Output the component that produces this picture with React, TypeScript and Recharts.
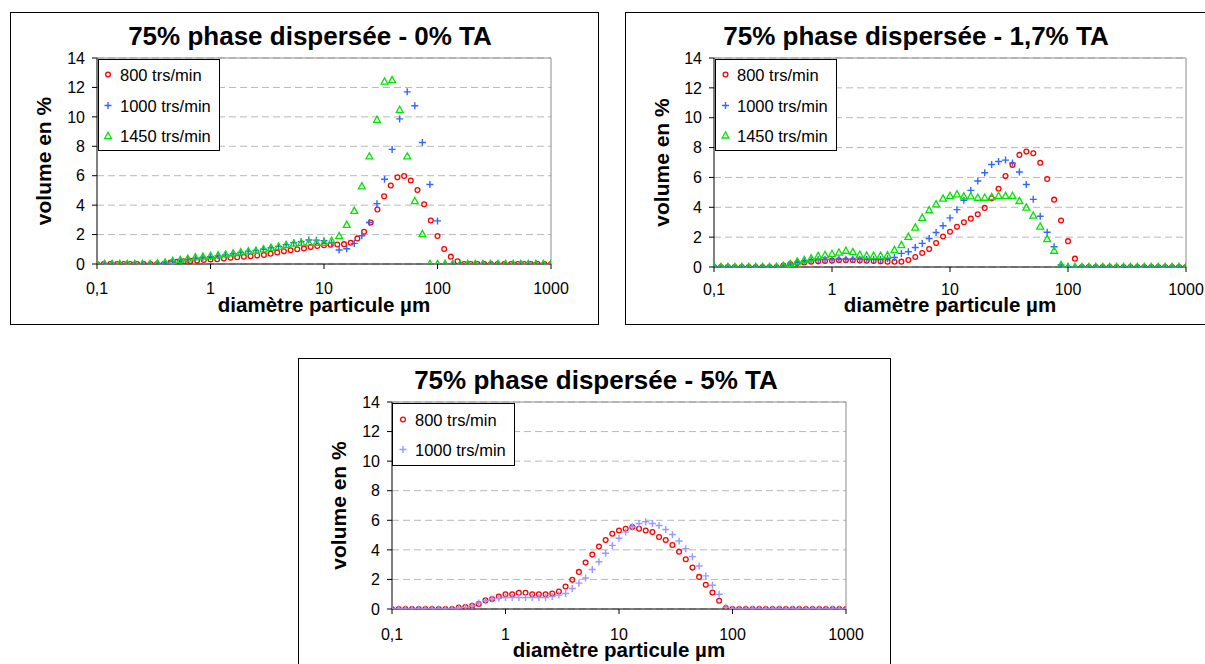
import React from 'react';
import { CartesianGrid, ReferenceLine, Scatter, ScatterChart, XAxis, YAxis } from 'recharts';

const FONT = '"Liberation Sans", Arial, Helvetica, sans-serif';

// particle diameters (µm), 17 classes per decade
const diam17 = [
  0.1, 0.1145, 0.1311, 0.1501, 0.1719, 0.1968, 0.2254, 0.258, 0.2955, 0.3383, 0.3874, 0.4435, 0.5079, 0.5815, 0.6658, 0.7624, 0.8729,
  1, 1.145, 1.311, 1.501, 1.719, 1.968, 2.254, 2.58, 2.955, 3.383, 3.874, 4.435, 5.079, 5.815, 6.658, 7.624, 8.729,
  10, 11.45, 13.11, 15.01, 17.19, 19.68, 22.54, 25.8, 29.55, 33.83, 38.74, 44.35, 50.79, 58.15, 66.58, 76.24, 87.29,
  100, 114.5, 131.1, 150.1, 171.9, 196.8, 225.4, 258, 295.5, 338.3, 387.4, 443.5, 507.9, 581.5, 665.8, 762.4, 872.9,
  1000,
];

// 15 classes per decade (0% TA, 1000 and 1450 trs/min)
const diam15 = [
  0.1, 0.1166, 0.1359, 0.1585, 0.1848, 0.2154, 0.2512, 0.2929, 0.3415, 0.3981, 0.4642, 0.5412, 0.631, 0.7356, 0.8577,
  1, 1.166, 1.359, 1.585, 1.848, 2.154, 2.512, 2.929, 3.415, 3.981, 4.642, 5.412, 6.31, 7.356, 8.577,
  10, 11.66, 13.59, 15.85, 18.48, 21.54, 25.12, 29.29, 34.15, 39.81, 46.42, 54.12, 63.1, 73.56, 85.77,
  100, 116.6, 135.9, 158.5, 184.8, 215.4, 251.2, 292.9, 341.5, 398.1, 464.2, 541.2, 631, 735.6, 857.7,
  1000,
];

const xTicks = [0.1, 1, 10, 100, 1000];
const yTicks = [0, 2, 4, 6, 8, 10, 12, 14];

// 0% TA
const ta0_800 = [
  0, 0, 0, 0, 0, 0, 0, 0, 0, 0, 0, 0.1, 0.15, 0.18, 0.21, 0.24, 0.27,
  0.3, 0.33, 0.37, 0.42, 0.46, 0.5, 0.53, 0.57, 0.62, 0.7, 0.78, 0.86, 0.93, 1.0, 1.06, 1.15, 1.22,
  1.27, 1.31, 1.33, 1.35, 1.44, 1.74, 2.19, 2.82, 3.7, 4.6, 5.33, 5.89, 5.98, 5.67, 5.03, 4.06, 2.96,
  1.9, 1.02, 0.5, 0.18, 0, 0, 0, 0, 0, 0, 0, 0, 0, 0, 0, 0, 0,
  0,
];
const ta0_1000 = [
  0, 0, 0, 0, 0, 0, 0, 0, 0.03, 0.08, 0.15, 0.22, 0.3, 0.4, 0.46,
  0.5, 0.56, 0.62, 0.7, 0.78, 0.85, 0.92, 1.0, 1.1, 1.2, 1.32, 1.45, 1.52, 1.63, 1.62,
  1.58, 1.45, 0.95, 1.04, 1.4, 1.92, 2.82, 4.1, 5.76, 7.79, 9.86, 11.7, 10.75, 8.26, 5.4,
  2.93, 0, 0, 0, 0, 0, 0, 0, 0, 0, 0, 0, 0, 0, 0,
  0,
];
const ta0_1450 = [
  0, 0, 0, 0, 0, 0, 0, 0, 0.05, 0.1, 0.2, 0.27, 0.36, 0.45, 0.5,
  0.54, 0.59, 0.65, 0.72, 0.79, 0.86, 0.9, 1.0, 1.1, 1.17, 1.29, 1.38, 1.44, 1.44, 1.44,
  1.44, 1.58, 1.9, 2.66, 3.61, 5.28, 7.31, 9.8, 12.4, 12.5, 10.47, 7.31, 4.27, 2.03, 0,
  0, 0, 0, 0, 0, 0, 0, 0, 0, 0, 0, 0, 0, 0, 0,
  0,
];

// 1,7% TA
const ta17_800 = [
  0, 0, 0, 0, 0, 0, 0, 0, 0, 0, 0.1, 0.2, 0.26, 0.3, 0.35, 0.38, 0.4,
  0.42, 0.45, 0.45, 0.45, 0.43, 0.42, 0.4, 0.38, 0.36, 0.35, 0.36, 0.47, 0.67, 0.94, 1.2, 1.6, 2.04,
  2.36, 2.69, 3.0, 3.24, 3.53, 3.96, 4.6, 5.24, 6.09, 6.84, 7.51, 7.73, 7.62, 6.98, 5.89, 4.51, 3.11,
  1.73, 0.56, 0, 0, 0, 0, 0, 0, 0, 0, 0, 0, 0, 0, 0, 0, 0,
  0,
];
const ta17_1000 = [
  0, 0, 0, 0, 0, 0, 0, 0, 0, 0, 0.1, 0.2, 0.3, 0.38, 0.45, 0.5, 0.5,
  0.5, 0.52, 0.52, 0.52, 0.52, 0.5, 0.5, 0.5, 0.55, 0.64, 0.91, 1.02, 1.31, 1.58, 1.91, 2.31, 2.76,
  3.29, 3.84, 4.47, 5.13, 5.76, 6.31, 6.87, 7.07, 7.16, 6.96, 6.36, 5.53, 4.53, 3.4, 2.33, 1.36, 0.13,
  0, 0, 0, 0, 0, 0, 0, 0, 0, 0, 0, 0, 0, 0, 0, 0, 0,
  0,
];
const ta17_1450 = [
  0, 0, 0, 0, 0, 0, 0, 0, 0, 0, 0.08, 0.2, 0.36, 0.47, 0.58, 0.73, 0.8,
  0.87, 0.96, 1.09, 1.0, 0.82, 0.76, 0.75, 0.75, 0.78, 1.13, 1.47, 2.02, 2.64, 3.29, 3.8, 4.2, 4.58,
  4.76, 4.87, 4.73, 4.73, 4.64, 4.64, 4.69, 4.76, 4.76, 4.76, 4.42, 3.98, 3.44, 2.71, 1.87, 1.09, 0.13,
  0, 0, 0, 0, 0, 0, 0, 0, 0, 0, 0, 0, 0, 0, 0, 0, 0,
  0,
];

// 5% TA
const ta5_800 = [
  0, 0, 0, 0, 0, 0, 0, 0, 0, 0, 0.1, 0.14, 0.22, 0.33, 0.58, 0.68, 0.85,
  1.0, 1.0, 1.1, 1.1, 1.0, 1.0, 1.0, 1.05, 1.18, 1.52, 1.97, 2.51, 3.14, 3.68, 4.22, 4.66, 5.09,
  5.31, 5.43, 5.54, 5.43, 5.31, 5.2, 4.87, 4.66, 4.33, 3.88, 3.36, 2.8, 2.17, 1.64, 1.12, 0.56, 0.07,
  0, 0, 0, 0, 0, 0, 0, 0, 0, 0, 0, 0, 0, 0, 0, 0, 0,
  0,
];
const ta5_1000 = [
  0, 0, 0, 0, 0, 0, 0, 0, 0, 0, 0.07, 0.11, 0.22, 0.4, 0.56, 0.67, 0.72,
  0.78, 0.78, 0.78, 0.78, 0.78, 0.78, 0.78, 0.85, 0.94, 1.05, 1.39, 1.75, 2.1, 2.67, 3.2, 3.77, 4.3,
  4.78, 5.2, 5.56, 5.78, 5.9, 5.78, 5.65, 5.38, 5.04, 4.6, 4.08, 3.54, 2.91, 2.24, 1.61, 1.0, 0.11,
  0, 0, 0, 0, 0, 0, 0, 0, 0, 0, 0, 0, 0, 0, 0, 0, 0,
  0,
];

const RED = '#ff0000';
const BLUE = '#3366ff';
const GREEN = '#00e600';
const LAVENDER = '#9999ff';

// room reserved for the tick labels next to the plot area
const Y_AXIS_W = 40;
const X_AXIS_H = 30;

type MarkerKind = 'circle' | 'plus' | 'triangle';

interface Series {
  name: string;
  kind: MarkerKind;
  color: string;
  diam: number[];
  values: number[];
}

interface PanelCfg {
  title: string;
  titleX: number;
  titleY: number;
  box: { left: number; top: number; width: number; height: number };
  plot: { left: number; top: number; right: number; bottom: number };
  tickGap: number;
  xTitleY: number;
  yTitleX: number;
  legend: { left: number; top: number; width: number; height: number; rows: number[]; markerX: number; textX: number };
  series: Series[];
}

const Glyph = ({ kind, color, cx, cy }: { kind: MarkerKind; color: string; cx: number; cy: number }) => {
  if (kind === 'circle') {
    return <circle cx={cx} cy={cy} r={2.4} fill="none" stroke={color} strokeWidth={1.3} />;
  }
  if (kind === 'plus') {
    return (
      <path
        d={`M${cx - 3.5},${cy}H${cx + 3.5}M${cx},${cy - 3.5}V${cy + 3.5}`}
        fill="none"
        stroke={color}
        strokeWidth={1.4}
      />
    );
  }
  return (
    <path
      d={`M${cx},${cy - 3.7}L${cx + 3.4},${cy + 2.5}L${cx - 3.4},${cy + 2.5}Z`}
      fill="none"
      stroke={color}
      strokeWidth={1.3}
    />
  );
};

const fmtX = (v: number) => String(v).replace('.', ',');

const panels: PanelCfg[] = [
  {
    title: '75% phase dispersée - 0% TA',
    titleX: 310,
    titleY: 45,
    box: { left: 10, top: 12, width: 589, height: 313 },
    plot: { left: 97, top: 58, right: 551, bottom: 264 },
    tickGap: 14,
    xTitleY: 312,
    yTitleX: 43,
    legend: { left: 98, top: 59, width: 122, height: 92, rows: [74.5, 105.5, 136], markerX: 108, textX: 120 },
    series: [
      { name: '800 trs/min', kind: 'circle', color: RED, diam: diam17, values: ta0_800 },
      { name: '1000 trs/min', kind: 'plus', color: BLUE, diam: diam15, values: ta0_1000 },
      { name: '1450 trs/min', kind: 'triangle', color: GREEN, diam: diam15, values: ta0_1450 },
    ],
  },
  {
    title: '75% phase dispersée - 1,7% TA',
    titleX: 916,
    titleY: 45,
    box: { left: 625, top: 12, width: 600, height: 313 },
    plot: { left: 714, top: 58, right: 1186, bottom: 267 },
    tickGap: 12,
    xTitleY: 312,
    yTitleX: 661,
    legend: { left: 715, top: 59, width: 122, height: 92, rows: [74.5, 105.5, 135.5], markerX: 725.5, textX: 737 },
    series: [
      { name: '800 trs/min', kind: 'circle', color: RED, diam: diam17, values: ta17_800 },
      { name: '1000 trs/min', kind: 'plus', color: BLUE, diam: diam17, values: ta17_1000 },
      { name: '1450 trs/min', kind: 'triangle', color: GREEN, diam: diam17, values: ta17_1450 },
    ],
  },
  {
    title: '75% phase dispersée - 5% TA',
    titleX: 596,
    titleY: 389,
    box: { left: 298, top: 358, width: 593, height: 313 },
    plot: { left: 392, top: 402, right: 846, bottom: 609 },
    tickGap: 15,
    xTitleY: 657,
    yTitleX: 338,
    legend: { left: 392, top: 403, width: 123, height: 63, rows: [419.5, 449.5], markerX: 403, textX: 415 },
    series: [
      { name: '800 trs/min', kind: 'circle', color: RED, diam: diam17, values: ta5_800 },
      { name: '1000 trs/min', kind: 'plus', color: LAVENDER, diam: diam17, values: ta5_1000 },
    ],
  },
];

const Panel = ({ cfg }: { cfg: PanelCfg }) => {
  const { box, plot, legend } = cfg;
  const ox = box.left + 1;
  const oy = box.top + 1;
  const w = box.width - 2;
  const h = box.height - 2;
  const margin = {
    left: plot.left - ox - Y_AXIS_W,
    top: plot.top - oy,
    right: ox + w - plot.right,
    bottom: oy + h - plot.bottom - X_AXIS_H,
  };
  const plotCx = (plot.left + plot.right) / 2 - ox;
  const plotCy = (plot.top + plot.bottom) / 2 - oy;
  const tickStyle = { fill: '#000', fontSize: 16, fontFamily: FONT };

  return (
    <div
      style={{
        position: 'absolute',
        left: box.left,
        top: box.top,
        width: w,
        height: h,
        border: '1px solid #000',
        background: '#fff',
      }}
    >
      <ScatterChart width={w} height={h} margin={margin}>
        <CartesianGrid vertical={false} stroke="#b8b8b8" strokeDasharray="7 4" />
        <XAxis
          type="number"
          dataKey="d"
          scale="log"
          domain={[0.1, 1000]}
          ticks={xTicks}
          interval={0}
          allowDataOverflow
          height={X_AXIS_H}
          tickSize={5}
          tickMargin={cfg.tickGap}
          tickFormatter={fmtX}
          tick={tickStyle}
          axisLine={{ stroke: '#000' }}
          tickLine={{ stroke: '#000' }}
        />
        <YAxis
          type="number"
          dataKey="v"
          domain={[0, 14]}
          ticks={yTicks}
          interval={0}
          allowDataOverflow
          width={Y_AXIS_W}
          tickSize={5}
          tickMargin={7}
          tick={tickStyle}
          axisLine={{ stroke: '#000' }}
          tickLine={{ stroke: '#000' }}
        />
        <ReferenceLine y={14} stroke="#8c8c8c" />
        <ReferenceLine x={1000} stroke="#8c8c8c" />
        {cfg.series.map((s) => (
          <Scatter
            key={s.name}
            name={s.name}
            data={s.diam.map((d, i) => ({ d, v: s.values[i] }))}
            isAnimationActive={false}
            shape={(p: any) =>
              p.cx == null || p.cy == null ? <g /> : <Glyph kind={s.kind} color={s.color} cx={p.cx} cy={p.cy} />
            }
          />
        ))}
      </ScatterChart>

      <svg
        width={w}
        height={h}
        style={{ position: 'absolute', left: 0, top: 0, overflow: 'visible', pointerEvents: 'none' }}
        fontFamily={FONT}
      >
        <text x={cfg.titleX - ox} y={cfg.titleY - oy} textAnchor="middle" fontSize={26} fontWeight="bold" fill="#000">
          {cfg.title}
        </text>
        <text x={plotCx} y={cfg.xTitleY - oy} textAnchor="middle" fontSize={20.5} fontWeight="bold" fill="#000">
          diamètre particule µm
        </text>
        <text
          transform={`translate(${cfg.yTitleX - ox},${plotCy}) rotate(-90)`}
          textAnchor="middle"
          dominantBaseline="central"
          fontSize={21}
          fontWeight="bold"
          fill="#000"
        >
          volume en %
        </text>

        <rect
          x={legend.left - ox + 0.5}
          y={legend.top - oy + 0.5}
          width={legend.width - 1}
          height={legend.height - 1}
          fill="#fff"
          stroke="#000"
        />
        {cfg.series.map((s, i) => (
          <g key={s.name}>
            <Glyph kind={s.kind} color={s.color} cx={legend.markerX - ox} cy={legend.rows[i] - oy} />
            <text
              x={legend.textX - ox}
              y={legend.rows[i] - oy}
              dominantBaseline="central"
              fontSize={16.5}
              fill="#000"
            >
              {s.name}
            </text>
          </g>
        ))}
      </svg>
    </div>
  );
};

export default function App() {
  return (
    <div
      style={{
        position: 'absolute',
        left: 0,
        top: 0,
        width: 1205,
        height: 664,
        overflow: 'hidden',
        background: '#fff',
        fontFamily: FONT,
      }}
    >
      {panels.map((p) => (
        <Panel key={p.title} cfg={p} />
      ))}
    </div>
  );
}
